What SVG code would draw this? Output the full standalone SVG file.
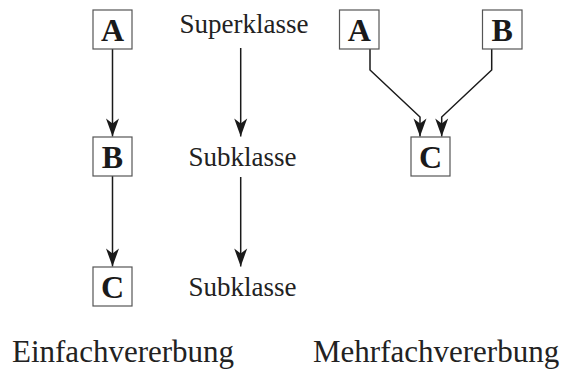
<svg xmlns="http://www.w3.org/2000/svg" width="561" height="369" viewBox="0 0 561 369">
<defs>
<marker id="ah" markerUnits="userSpaceOnUse" markerWidth="20" markerHeight="16" viewBox="-19 -8 20 16" refX="0" refY="0" orient="auto">
<path d="M0,0 L-18,-6.5 L-13,0 L-18,6.5 Z" fill="#1a1a1a"/>
</marker>
</defs>
<style>
.box{fill:#fff;stroke:#555;stroke-width:1.2}
.con{fill:none;stroke:#1a1a1a;stroke-width:1.5;marker-end:url(#ah)}
</style>
<rect width="561" height="369" fill="#fff"/>
<g id="connectors">
<path class="con" d="M112.5,49 V136.5"/>
<path class="con" d="M112.5,176 V266.5"/>
<path class="con" d="M240.7,48 V136.5"/>
<path class="con" d="M240.7,177 V266.5"/>
<path class="con" d="M370,49 V70 L420,117 V136.5"/>
<path class="con" d="M491.7,49 V70 L441.7,117 V136.5"/>
</g>
<g id="left-A"><rect class="box" x="93" y="10" width="39" height="39"/><text x="112.5" y="40.5" font-family="Liberation Serif" font-weight="bold" font-size="32" fill="#1a1a1a" text-anchor="middle">A</text></g>
<g id="left-B"><rect class="box" x="93" y="137" width="39" height="39"/><text x="112.5" y="167.5" font-family="Liberation Serif" font-weight="bold" font-size="32" fill="#1a1a1a" text-anchor="middle">B</text></g>
<g id="left-C"><rect class="box" x="93" y="267" width="39" height="39"/><text x="112.5" y="297.5" font-family="Liberation Serif" font-weight="bold" font-size="32" fill="#1a1a1a" text-anchor="middle">C</text></g>
<g id="mid-super"><text x="244" y="33" font-family="Liberation Serif" font-size="27" fill="#222" text-anchor="middle">Superklasse</text></g>
<g id="mid-sub1"><text x="242.5" y="166" font-family="Liberation Serif" font-size="27" fill="#222" text-anchor="middle">Subklasse</text></g>
<g id="mid-sub2"><text x="242.5" y="296" font-family="Liberation Serif" font-size="27" fill="#222" text-anchor="middle">Subklasse</text></g>
<g id="right-A"><rect class="box" x="339.5" y="10" width="39.5" height="39"/><text x="359.2" y="40.5" font-family="Liberation Serif" font-weight="bold" font-size="32" fill="#1a1a1a" text-anchor="middle">A</text></g>
<g id="right-B"><rect class="box" x="482.5" y="10" width="39.5" height="39"/><text x="502.2" y="40.5" font-family="Liberation Serif" font-weight="bold" font-size="32" fill="#1a1a1a" text-anchor="middle">B</text></g>
<g id="right-C"><rect class="box" x="411" y="137" width="39" height="39"/><text x="430.5" y="167.5" font-family="Liberation Serif" font-weight="bold" font-size="32" fill="#1a1a1a" text-anchor="middle">C</text></g>
<g id="captions">
<text x="12" y="362" font-family="Liberation Serif" font-size="31" fill="#222">Einfachvererbung</text>
<text x="313" y="362" font-family="Liberation Serif" font-size="31" fill="#222">Mehrfachvererbung</text>
</g>
</svg>
